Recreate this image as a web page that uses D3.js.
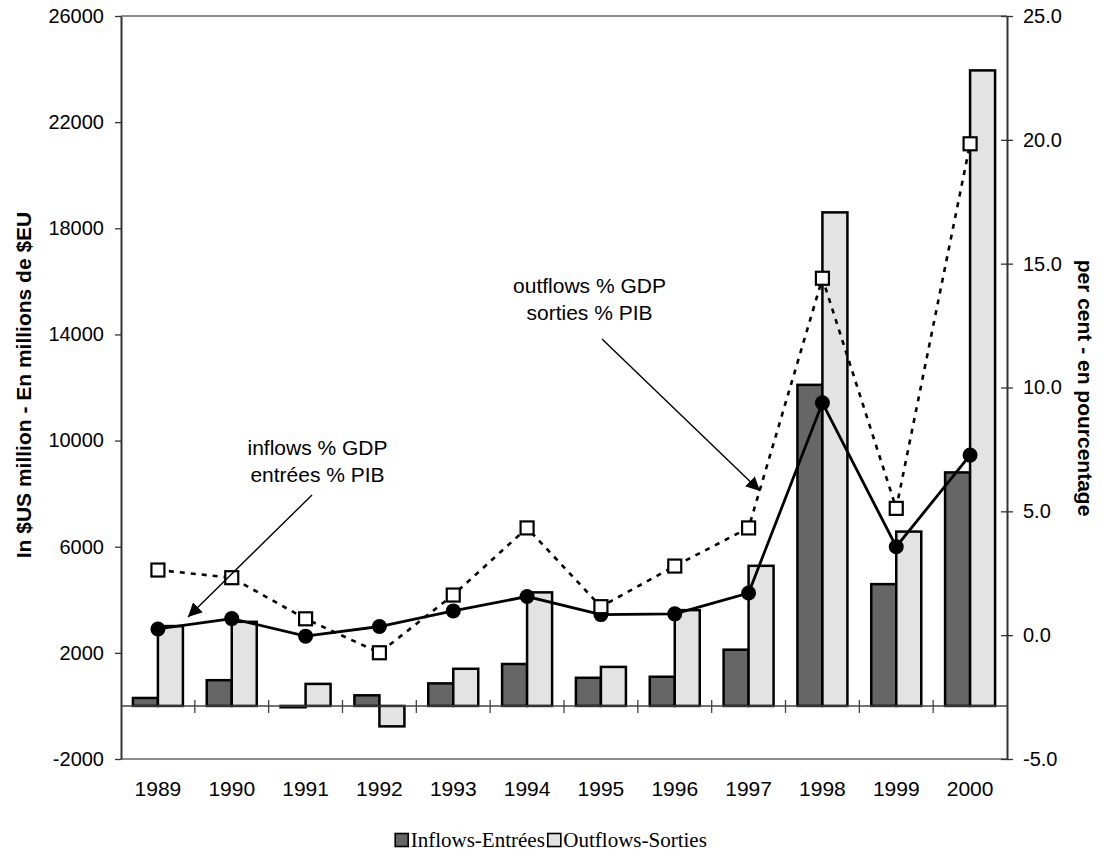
<!DOCTYPE html>
<html>
<head>
<meta charset="utf-8">
<script src="https://cdn.jsdelivr.net/npm/d3@7/dist/d3.min.js"></script>
<style>
  html, body { margin: 0; padding: 0; background: #fff; }
  svg { display: block; }
</style>
</head>
<body>
<svg id="chart" width="1102" height="856" font-family="Arial, 'Liberation Sans', sans-serif"></svg>
<script>
const years = ["1989","1990","1991","1992","1993","1994","1995","1996","1997","1998","1999","2000"];
const inflows = [300, 970, -50, 400, 850, 1580, 1060, 1100, 2120, 12100, 4590, 8800];
const outflows = [3010, 3170, 830, -770, 1400, 4280, 1470, 3610, 5280, 18600, 6570, 23950];
const inflowPct = [0.25, 0.67, -0.04, 0.35, 0.98, 1.56, 0.83, 0.86, 1.70, 9.38, 3.57, 7.27];
const outflowPct = [2.63, 2.32, 0.66, -0.71, 1.62, 4.33, 1.15, 2.79, 4.33, 14.41, 5.12, 19.84];
const leftTicks = [-2000, 2000, 6000, 10000, 14000, 18000, 22000, 26000];
const rightTicks = [-5, 0, 5, 10, 15, 20, 25];
const seriesNames = ["Inflows-Entrées", "Outflows-Sorties"];
const leftTitle = "In $US million - En millions de $EU";
const rightTitle = "per cent - en pourcentage";
const noteIn = ["inflows % GDP", "entrées % PIB"];
const noteOut = ["outflows % GDP", "sorties % PIB"];

const svg = d3.select("#chart");
const L = 121, R = 1007, T = 16, B = 759;
const SANS = "Arial, 'Liberation Sans', sans-serif";
const SERIF = "'Liberation Serif', 'Times New Roman', serif";

const x = d3.scaleBand().domain(years).range([L, R]).padding(0);
const yL = d3.scaleLinear().domain([-2000, 26000]).range([B, T]);
const yR = d3.scaleLinear().domain([-5, 25]).range([B, T]);
const sub = d3.scaleBand().domain([0, 1]).range([0, 50]);
const cx = d => x(d) + x.bandwidth() / 2;
const hy = f => v => f(v).replace("\u2212", "-");

// frame top & bottom
svg.append("line").attr("x1", L).attr("x2", R).attr("y1", T).attr("y2", T)
  .attr("stroke", "#8c8c8c").attr("stroke-width", 2);
svg.append("line").attr("x1", L).attr("x2", R).attr("y1", B).attr("y2", B)
  .attr("stroke", "#8c8c8c").attr("stroke-width", 2);

// bars
const bars = svg.append("g");
years.forEach((yr, i) => {
  [inflows[i], outflows[i]].forEach((v, k) => {
    bars.append("rect")
      .attr("x", cx(yr) - 25 + sub(k))
      .attr("width", sub.bandwidth())
      .attr("y", Math.min(yL(v), yL(0)))
      .attr("height", Math.abs(yL(v) - yL(0)))
      .attr("fill", k === 0 ? "#666666" : "#e3e3e3")
      .attr("stroke", "#000").attr("stroke-width", 2.5);
  });
});

// zero line with category ticks
svg.append("line").attr("x1", L).attr("x2", R).attr("y1", yL(0)).attr("y2", yL(0))
  .attr("stroke", "#444").attr("stroke-width", 1.5);
years.slice(1).forEach(yr => {
  svg.append("line").attr("x1", x(yr)).attr("x2", x(yr))
    .attr("y1", yL(0) - 6).attr("y2", yL(0) + 7)
    .attr("stroke", "#444").attr("stroke-width", 1.3);
});

// left axis
const gl = svg.append("g").attr("transform", `translate(${L},0)`)
  .call(d3.axisLeft(yL).tickValues(leftTicks).tickSize(6).tickPadding(11).tickSizeOuter(0).tickFormat(hy(d3.format("d"))));
gl.select(".domain").attr("stroke", "#333").attr("stroke-width", 2);
gl.selectAll(".tick line").attr("stroke", "#333").attr("stroke-width", 1.3);
gl.selectAll(".tick text").attr("font-size", 20).attr("font-family", SANS).attr("fill", "#000");

// right axis
const gr = svg.append("g").attr("transform", `translate(${R},0)`)
  .call(d3.axisRight(yR).tickValues(rightTicks).tickSize(6).tickPadding(10).tickSizeOuter(0).tickFormat(hy(d3.format(".1f"))));
gr.select(".domain").attr("stroke", "#333").attr("stroke-width", 2);
gr.selectAll(".tick line").attr("x1", -6).attr("stroke", "#333").attr("stroke-width", 1.3);
gr.selectAll(".tick text").attr("font-size", 20).attr("font-family", SANS).attr("fill", "#000");

// x labels
const gx = svg.append("g").attr("transform", `translate(0,${B})`)
  .call(d3.axisBottom(x).tickSize(0).tickPadding(0));
gx.select(".domain").remove();
gx.selectAll(".tick text").attr("font-size", 21).attr("dy", null).attr("y", 37)
  .attr("font-family", SANS).attr("fill", "#000");

// inflow % line
const lineGen = d3.line().x((d, i) => cx(years[i])).y(d => yR(d));
svg.append("path").datum(inflowPct).attr("d", lineGen)
  .attr("fill", "none").attr("stroke", "#000").attr("stroke-width", 2.8);
svg.append("g").selectAll("circle").data(inflowPct).join("circle")
  .attr("cx", (d, i) => cx(years[i])).attr("cy", d => yR(d)).attr("r", 7.5).attr("fill", "#000");

// outflow % line
svg.append("path").datum(outflowPct).attr("d", lineGen)
  .attr("fill", "none").attr("stroke", "#000").attr("stroke-width", 2.6).attr("stroke-dasharray", "5,6");
svg.append("g").selectAll("rect").data(outflowPct).join("rect")
  .attr("x", (d, i) => cx(years[i]) - 6.5).attr("y", d => yR(d) - 6.5)
  .attr("width", 13).attr("height", 13)
  .attr("fill", "#fff").attr("stroke", "#000").attr("stroke-width", 2.2);

// annotations
svg.append("defs").append("marker").attr("id", "ah")
  .attr("viewBox", "0 0 10 10").attr("refX", 10).attr("refY", 5)
  .attr("markerWidth", 14).attr("markerHeight", 14).attr("markerUnits", "userSpaceOnUse")
  .attr("orient", "auto")
  .append("path").attr("d", "M0,0 L10,5 L0,10 z").attr("fill", "#000");

function note(lines, cxp, y0) {
  lines.forEach((t, i) => {
    svg.append("text").attr("x", cxp).attr("y", y0 + i * 27).attr("text-anchor", "middle")
      .attr("font-size", 21).attr("font-family", SANS).text(t);
  });
}
note(noteIn, 317.5, 455);
note(noteOut, 589.5, 293);
svg.append("line").attr("x1", 312).attr("y1", 495).attr("x2", 188).attr("y2", 617)
  .attr("stroke", "#000").attr("stroke-width", 1.4).attr("marker-end", "url(#ah)");
svg.append("line").attr("x1", 602).attr("y1", 339).attr("x2", 760).attr("y2", 491)
  .attr("stroke", "#000").attr("stroke-width", 1.4).attr("marker-end", "url(#ah)");

// axis titles
svg.append("text").attr("transform", "translate(31,385) rotate(-90)")
  .attr("text-anchor", "middle").attr("font-size", 21).attr("font-weight", "bold")
  .attr("font-family", SANS).text(leftTitle);
svg.append("text").attr("transform", "translate(1078,388) rotate(90)")
  .attr("text-anchor", "middle").attr("font-size", 21).attr("font-weight", "bold")
  .attr("font-family", SANS).text(rightTitle);

// legend
const lg = svg.append("g");
const fills = ["#666666", "#e3e3e3"];
let cur = 0;
seriesNames.forEach((n, i) => {
  const g = lg.append("g").attr("transform", `translate(${cur},0)`);
  g.append("rect").attr("x", 0).attr("y", -13.5).attr("width", 13).attr("height", 13)
    .attr("fill", fills[i]).attr("stroke", "#000").attr("stroke-width", 1.6);
  const t = g.append("text").attr("x", 15.5).attr("y", 0)
    .style("font-family", SERIF)
    .attr("font-size", 21).text(n);
  cur += 15.5 + t.node().getComputedTextLength() + 3;
});
const total = cur - 3;
lg.attr("transform", `translate(${551 - total / 2},847)`);
</script>
</body>
</html>
